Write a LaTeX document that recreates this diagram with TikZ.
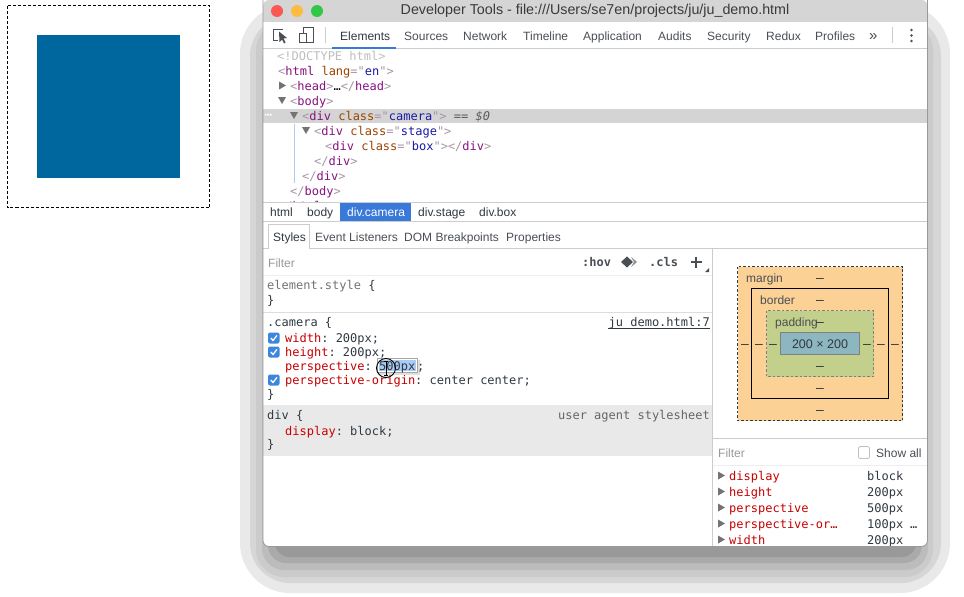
\documentclass[tikz,border=0pt]{standalone}
\usepackage{fontspec}
\setmainfont{Liberation Sans}
\setmonofont{DejaVu Sans Mono}
\definecolor{ui}{HTML}{4A4F55}
\definecolor{dark}{HTML}{303942}
\definecolor{tag}{HTML}{881280}
\definecolor{brk}{HTML}{A894A6}
\definecolor{atn}{HTML}{994500}
\definecolor{atv}{HTML}{1A1AA6}
\definecolor{prop}{HTML}{C80000}
\definecolor{sel}{HTML}{3879D9}
\definecolor{chk}{HTML}{3B87DD}
\definecolor{demo}{HTML}{00669E}
\definecolor{sa}{HTML}{E9E9E9}
\definecolor{sb}{HTML}{D6D6D6}
\definecolor{sc}{HTML}{CBCBCB}
\definecolor{sd}{HTML}{BCBCBC}
\definecolor{se}{HTML}{AAAAAA}
\definecolor{sf}{HTML}{999999}
\definecolor{titlebar}{HTML}{D5D5D5}
\definecolor{rule}{HTML}{CCCCCC}
\definecolor{rowsel}{HTML}{D4D4D4}
\definecolor{guide}{HTML}{A8CEF0}
\definecolor{ruleb}{HTML}{EEEEEE}
\definecolor{rulec}{HTML}{DDDDDD}
\definecolor{selb}{HTML}{A9CCF5}
\definecolor{marginc}{HTML}{FBD195}
\definecolor{borderc}{HTML}{FBD195}
\definecolor{paddingc}{HTML}{C3D08B}
\definecolor{contentc}{HTML}{8CB6C0}
\definecolor{titletxt}{HTML}{3A3A3A}
\definecolor{lred}{HTML}{FC5753}
\definecolor{lyel}{HTML}{FDBC40}
\definecolor{lgrn}{HTML}{33C748}
\newcommand{\tg}[1]{\textcolor{tag}{#1}}
\newcommand{\bk}[1]{\textcolor{brk}{#1}}
\newcommand{\an}[1]{\textcolor{atn}{#1}}
\newcommand{\av}[1]{\textcolor{atv}{#1}}
\newcommand{\pr}[1]{\textcolor{prop}{#1}}
\newcommand{\ckbox}[1]{\fill[chk,rounded corners=2pt] (268,#1-5.5) rectangle (279.5,#1+5.5);
 \draw[white,line width=1.3pt] (270.8,#1) -- (273,#1+2.5) -- (277,#1-2.6);}
\tikzset{
 tm/.style={anchor=base west,inner sep=0pt,font=\ttfamily\fontsize{12}{14}\selectfont,text=dark},
 tu/.style={anchor=base west,inner sep=0pt,font=\fontsize{12}{14}\selectfont,text=ui},
 tum/.style={anchor=base,inner sep=0pt,font=\fontsize{12.5}{14}\selectfont,text=dark},
 tdash/.style={anchor=base,inner sep=0pt,font=\fontsize{14}{14}\selectfont,text=dark},
 tri/.style={fill=black!55},
 hair/.style={line width=1pt},
 winshape/.style={rounded corners=6pt}
}
\begin{document}
\begin{tikzpicture}[x=1pt,y=-1pt]
\useasboundingbox (0,0) rectangle (964,597);
\fill[white] (0,0) rectangle (964,597);
% demo box
\draw[black,line width=1pt,dash pattern=on 3pt off 2pt] (7.5,5.5) rectangle (209.5,207.5);
\fill[demo] (37,35) rectangle (180,178);
% shadow layers
\fill[sa,rounded corners=50pt] (240,4) rectangle (950,593);
\fill[sb,rounded corners=40pt] (250,16) rectangle (941,583);
\fill[sc,rounded corners=28pt] (256,22) rectangle (933,577);
\fill[sd,rounded corners=22pt] (262,40) rectangle (928,570);
\fill[se,rounded corners=18pt] (268,40) rectangle (922,563);
\fill[sf,rounded corners=14pt] (275,40) rectangle (916,557);
% window
\fill[white,winshape] (263,0) rectangle (927.5,546.5);
\begin{scope}
\clip[winshape] (263,0) rectangle (927.5,546.5);
\fill[titlebar] (263,0) rectangle (928,22);
\draw[rule,hair] (263,48.5) -- (928,48.5);
\fill[sel] (332,46.5) rectangle (396,49);
% elements panel
\fill[rowsel] (263,109) rectangle (928,123);
\draw[guide,hair] (294.5,124) -- (294.5,183);
\begin{scope}
\clip (263,49) rectangle (928,203);
\node[tm] (l1) at (277,60) {\textcolor{black!25}{<!DOCTYPE html>}};
\node[tm] (l2) at (278,75) {\bk{<}\tg{html} \an{lang}\bk{="}\av{en}\bk{">}};
\node[tm] (l3) at (290,90) {\bk{<}\tg{head}\bk{>}\textcolor{black}{…}\bk{</}\tg{head}\bk{>}};
\node[tm] (l4) at (290,105) {\bk{<}\tg{body}\bk{>}};
\node[tm] (l5) at (302,120) {\bk{<}\tg{div} \an{class}\bk{="}\av{camera}\bk{">} \textcolor{black!65}{== \itshape\$0}};
\node[tm] (l6) at (314,135) {\bk{<}\tg{div} \an{class}\bk{="}\av{stage}\bk{">}};
\node[tm] (l7) at (325,150) {\bk{<}\tg{div} \an{class}\bk{="}\av{box}\bk{">}\bk{</}\tg{div}\bk{>}};
\node[tm] (l8) at (314,165) {\bk{</}\tg{div}\bk{>}};
\node[tm] (l9) at (302,180) {\bk{</}\tg{div}\bk{>}};
\node[tm] (l10) at (290,195) {\bk{</}\tg{body}\bk{>}};
\node[tm] (l11) at (278,210) {\bk{</}\tg{html}\bk{>}};
\end{scope}
\node[tm,text=white,font=\bfseries\fontsize{7}{8}\selectfont] (dots) at (264.5,117.5) {•••};
\fill[tri] (279,81.5) -- (286,85.5) -- (279,89.5) -- cycle;
\fill[tri] (278,97) -- (286,97) -- (282,104) -- cycle;
\fill[tri] (290,112) -- (298,112) -- (294,119) -- cycle;
\fill[tri] (302,127) -- (310,127) -- (306,134) -- cycle;
% breadcrumb
\fill[white] (263,203) rectangle (928,221);
\draw[rule,hair] (263,202.5) -- (928,202.5);
\fill[sel] (340,203) rectangle (411,221);
\draw[rule,hair] (263,221.5) -- (928,221.5);
\node[tu,text=dark] (b1) at (270,216) {html};
\node[tu,text=dark] (b2) at (307,216) {body};
\node[tu,text=white] (b3) at (347,216) {div.camera};
\node[tu,text=dark] (b4) at (418,216) {div.stage};
\node[tu,text=dark] (b5) at (479,216) {div.box};
% style tabs
\draw[rule,hair] (263,248.5) -- (928,248.5);
\draw[rule,fill=white,hair] (268.5,248.5) -- (268.5,224.5) -- (309.5,224.5) -- (309.5,248.5);
\node[tu,text=dark] (s1) at (273,241) {Styles};
\node[tu] (s2) at (315,241) {Event Listeners};
\node[tu] (s3) at (404,241) {DOM Breakpoints};
\node[tu] (s4) at (506,241) {Properties};
\draw[rule,hair] (712.5,248) -- (712.5,547);
% filter row
\node[tu,text=black!40] (f1) at (268,267) {Filter};
\node[tm,font=\ttfamily\bfseries\fontsize{12}{14}\selectfont,text=ui] (hov) at (582,266) {:hov};
\fill[ui] (621,262) -- (627,256.5) -- (633,262) -- (627,267.5) -- cycle;
\fill[black!45] (631,257) -- (637,262) -- (631,267) -- (634,262) -- cycle;
\node[tm,font=\ttfamily\bfseries\fontsize{12}{14}\selectfont,text=ui] (cls) at (649,266) {.cls};
\draw[ui,line width=1.2pt] (690.5,262) -- (701.5,262) (696,256.5) -- (696,267.5);
\fill[ui] (705,272) -- (709,272) -- (709,268) -- cycle;
\draw[ruleb,hair] (263,275.5) -- (712,275.5);
\node[tm,text=black!55] (e1) at (267,289) {element.style \textcolor{dark}{\{}};
\node[tm] (e2) at (267,304) {\}};
\draw[rulec,hair] (263,312.5) -- (712,312.5);
% camera rule
\node[tm] (c0) at (267,326) {.camera \{};
\node[tm,anchor=base east] (c0r) at (710,326) {ju\_demo.html:7};
\draw[dark,line width=.7pt] (c0r.west |- 0,328) -- (c0r.east |- 0,328);
\ckbox{338}
\ckbox{352}
\ckbox{380}
\node[tm] (c1) at (285,342) {\pr{width}: 200px;};
\node[tm] (c2) at (285,356) {\pr{height}: 200px;};
\node[tm] (c3) at (285,370) {\pr{perspective}:};
\node[tm] (c4) at (285,384) {\pr{perspective-origin}: center center;};
\node[tm] (c5) at (267,398) {\}};
% UA rule
\fill[sa] (263,405) rectangle (712,456);
\node[tm] (u0) at (267,419) {div \{};
\node[tm,anchor=base east,text=black!60] (u0r) at (710,419) {user agent stylesheet};
\node[tm] (u1) at (285,435) {\pr{display}: block;};
\node[tm] (u2) at (267,448) {\}};
% editing box with cursor
\fill[black!12] (378,360) rectangle (420,375);
\draw[black!35,fill=white,line width=.8pt] (377.5,358.5) rectangle (417.5,372.5);
\fill[selb] (379,360) rectangle (416,371);
\node[tm] (c3v) at (379,370) {500px};
\node[tm] (semi2) at (417,370) {;};
\draw[black,line width=.9pt] (386,368) circle (9.5);
\draw[black,line width=1pt] (386,361) -- (386,375) (384,361) -- (388,361) (384,375) -- (388,375);
% box model
\draw[dark,fill=marginc,line width=.8pt,dash pattern=on 2.5pt off 2pt] (737.5,266.5) rectangle (902.5,420.5);
\draw[black,fill=borderc,line width=1pt] (751.5,288.5) rectangle (888.5,398.5);
\draw[black!50,fill=paddingc,line width=.8pt,dash pattern=on 2.5pt off 2pt] (766.5,310.5) rectangle (873.5,376.5);
\draw[black!50,fill=contentc,line width=1pt] (780.5,332.5) rectangle (859.5,354.5);
\node[tu] (m1) at (746,282) {margin};
\node[tu] (m2) at (760,304) {border};
\node[tu] (m3) at (775,326) {padding};
\node[tum] (m4) at (820,348.5) {200 × 200};
\foreach \nm/\xx/\yy in {da/820/282,db/820/304,dc/820/326,dd/820/370,de/820/392,df/820/414,dg/745/348,dh/759/348,di/773/348,dj/867/348,dk/881/348,dl/895/348}
  \node[tdash] (\nm) at (\xx,\yy) {–};
% computed
\draw[rule,hair] (713,438.5) -- (928,438.5);
\node[tu,text=black!40] (g1) at (718,457) {Filter};
\draw[black!25,fill=white,line width=.8pt,rounded corners=2pt] (858.5,446.5) rectangle (869.5,458.5);
\node[tu] (g2) at (876,457) {Show all};
\draw[ruleb,hair] (713,465.5) -- (928,465.5);
\foreach \nm/\yy/\pp/\vv in {k1/480/display/block,k2/496/height/200px,k3/512/perspective/500px,k4/528/perspective-or…/100px,k5/544/width/200px}{
  \node[tm,text=prop] (\nm) at (729,\yy) {\pp};
  \node[tm] (\nm v) at (867,\yy) {\vv};
  \fill[black!55] (718,\yy-8.5) -- (725,\yy-4.5) -- (718,\yy-0.5) -- cycle;
}
\node[tm] (k4e) at (910,528) {…};
% toolbar
\node[anchor=center,inner sep=0pt,font=\fontsize{14.3}{16}\selectfont,text=titletxt] (title) at (595,11) {Developer Tools - file:///Users/se7en/projects/ju/ju\_demo.html};
\fill[lred] (277,11) circle (6);
\fill[lyel] (297,11) circle (6);
\fill[lgrn] (317,11) circle (6);
\draw[ui,line width=1pt] (283,29.5) -- (273.5,29.5) -- (273.5,40.5) -- (278,40.5);
\fill[ui] (279,31.5) -- (287,38) -- (283.5,38.5) -- (285.5,42.5) -- (284,43.5) -- (282,39.5) -- (279.5,42) -- cycle;
\draw[ui,line width=1pt] (303.5,33) -- (303.5,27.5) -- (313.5,27.5) -- (313.5,42.5) -- (299.5,42.5) -- (299.5,33) -- (306.5,33) -- (306.5,42.5);
\draw[rule,hair] (325.5,27) -- (325.5,43);
\draw[rule,hair] (892.5,27) -- (892.5,43);
\node[tu,text=dark] (t1) at (340,40) {Elements};
\node[tu] (t2) at (404,40) {Sources};
\node[tu] (t3) at (463,40) {Network};
\node[tu] (t4) at (523,40) {Timeline};
\node[tu] (t5) at (583,40) {Application};
\node[tu] (t6) at (658,40) {Audits};
\node[tu] (t7) at (707,40) {Security};
\node[tu] (t8) at (766,40) {Redux};
\node[tu] (t9) at (815,40) {Profiles};
\node[tu,font=\fontsize{15}{16}\selectfont] (t10) at (869,40) {»};
\foreach \yy in {30,35.5,41} \fill[ui] (911.5,\yy) circle (1.4);
\end{scope}
\draw[black!40,line width=.8pt,rounded corners=6pt] (263,0) -- (263,546.5) -- (927.5,546.5) -- (927.5,0);
\end{tikzpicture}
\end{document}
